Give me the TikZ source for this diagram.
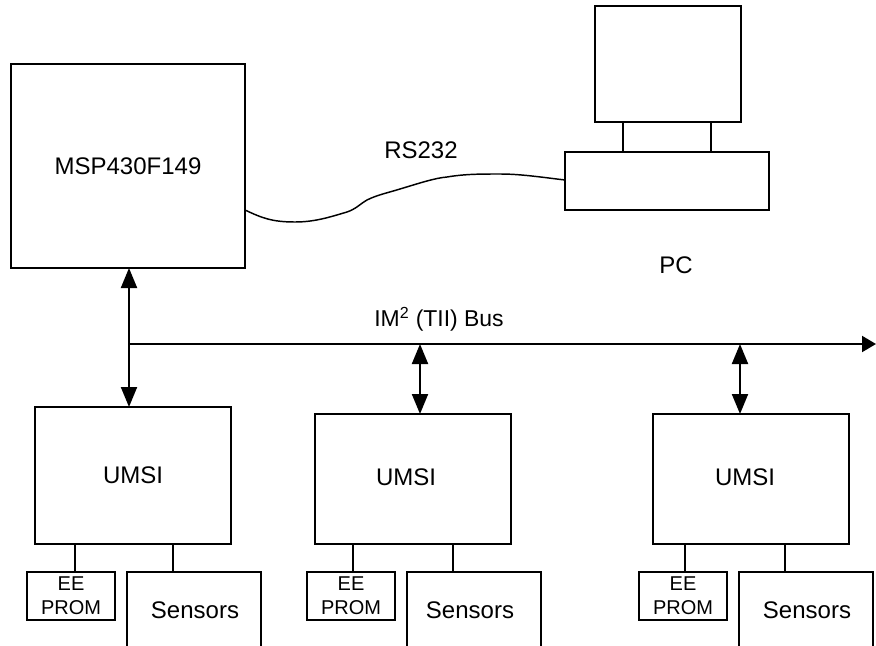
\documentclass[tikz,border=0pt]{standalone}
\usepackage{fontspec}
\setmainfont{Liberation Sans}
\usetikzlibrary{arrows.meta}
\tikzset{
  box/.style={draw,line width=1.5pt,inner sep=0pt,outer sep=0pt,font=\fontsize{18}{20}\selectfont},
  eebox/.style={box,minimum width=66pt,minimum height=36pt,align=center,font=\fontsize{15}{18}\selectfont},
  umsibox/.style={box,minimum width=147pt},
  sensorbox/.style={box,minimum width=100.5pt,minimum height=66pt},
  lbl/.style={inner sep=0pt,font=\fontsize{18}{20}\selectfont},
  wire/.style={line width=1.5pt},
  cable/.style={line width=1.1pt},
  bidir/.style={wire,{Triangle[length=15pt,width=12pt]}-{Triangle[length=15pt,width=12pt]}},
  busline/.style={wire,-{Triangle[length=10.5pt,width=12pt]}}
}
\begin{document}
\begin{tikzpicture}[x=0.75pt,y=-0.75pt]
  \useasboundingbox (0,0) rectangle (876,646);
  % controller and PC
  \node[box,minimum width=175.5pt,minimum height=153pt] (msp) at (128,166) {MSP430F149};
  \node[box,minimum width=109.5pt,minimum height=87pt] (monitor) at (668,64) {};
  \node[box,minimum width=153pt,minimum height=43.5pt] (base) at (667,181) {};
  \coordinate (standa) at (623,0);
  \coordinate (standb) at (711,0);
  \draw[wire] (standa |- monitor.south) -- (standa |- base.north);
  \draw[wire] (standb |- monitor.south) -- (standb |- base.north);
  \coordinate (cablea) at (245,210);
  \coordinate (cableb) at (565,180);
  \draw[cable] (cablea) .. controls (262,218) and (272,222) .. (295,222)
    .. controls (315,222) and (330,217) .. (347,212)
    .. controls (356,209) and (360,204) .. (367,200)
    .. controls (377,195) and (387,193) .. (400,189)
    .. controls (420,183) and (435,178) .. (447,177)
    .. controls (465,174) and (480,174) .. (500,174)
    .. controls (520,174) and (540,177) .. (cableb);
  \node[lbl] (rs) at (421,150) {RS232};
  \node[lbl] (pc) at (676,265) {PC};
  % bus
  \coordinate (busa) at (129,344);
  \coordinate (busb) at (420,344);
  \coordinate (busc) at (740,344);
  \coordinate (busend) at (876,344);
  \draw[busline] (busa) -- (busend);
  \node[lbl,font=\fontsize{17.2}{20}\selectfont] (buslbl) at (439,319) {IM\textsuperscript{2} (TII) Bus};
  % first unit
  \node[umsibox,minimum height=102.75pt] (umsia) at (133,475.5) {UMSI};
  \node[eebox] (eepa) at (71,596) {EE\\PROM};
  \node[sensorbox] (sensa) at (194,616) {};
  \node[lbl] (sensalbl) at (195,610) {Sensors};
  \coordinate (stubaa) at (75,0);
  \coordinate (stubab) at (173,0);
  \draw[wire] (stubaa |- umsia.south) -- (stubaa |- eepa.north);
  \draw[wire] (stubab |- umsia.south) -- (stubab |- sensa.north);
  \draw[bidir] (busa |- msp.south) -- (busa |- umsia.north);
  % second unit
  \node[umsibox,minimum height=97.5pt] (umsib) at (413,479) {};
  \node[lbl] (umsiblbl) at (406,477) {UMSI};
  \node[eebox] (eepb) at (351,596) {EE\\PROM};
  \node[sensorbox] (sensb) at (474,616) {};
  \node[lbl] (sensblbl) at (470,610) {Sensors};
  \coordinate (stubba) at (353,0);
  \coordinate (stubbb) at (453,0);
  \draw[wire] (stubba |- umsib.south) -- (stubba |- eepb.north);
  \draw[wire] (stubbb |- umsib.south) -- (stubbb |- sensb.north);
  \draw[bidir] (busb) -- (busb |- umsib.north);
  % third unit
  \node[umsibox,minimum height=97.5pt] (umsic) at (751,479) {};
  \node[lbl] (umsiclbl) at (745,477) {UMSI};
  \node[eebox] (eepc) at (683,596) {EE\\PROM};
  \node[sensorbox] (sensc) at (806,616) {};
  \node[lbl] (sensclbl) at (807,610) {Sensors};
  \coordinate (stubca) at (685,0);
  \coordinate (stubcb) at (785,0);
  \draw[wire] (stubca |- umsic.south) -- (stubca |- eepc.north);
  \draw[wire] (stubcb |- umsic.south) -- (stubcb |- sensc.north);
  \draw[bidir] (busc) -- (busc |- umsic.north);
\end{tikzpicture}
\end{document}
